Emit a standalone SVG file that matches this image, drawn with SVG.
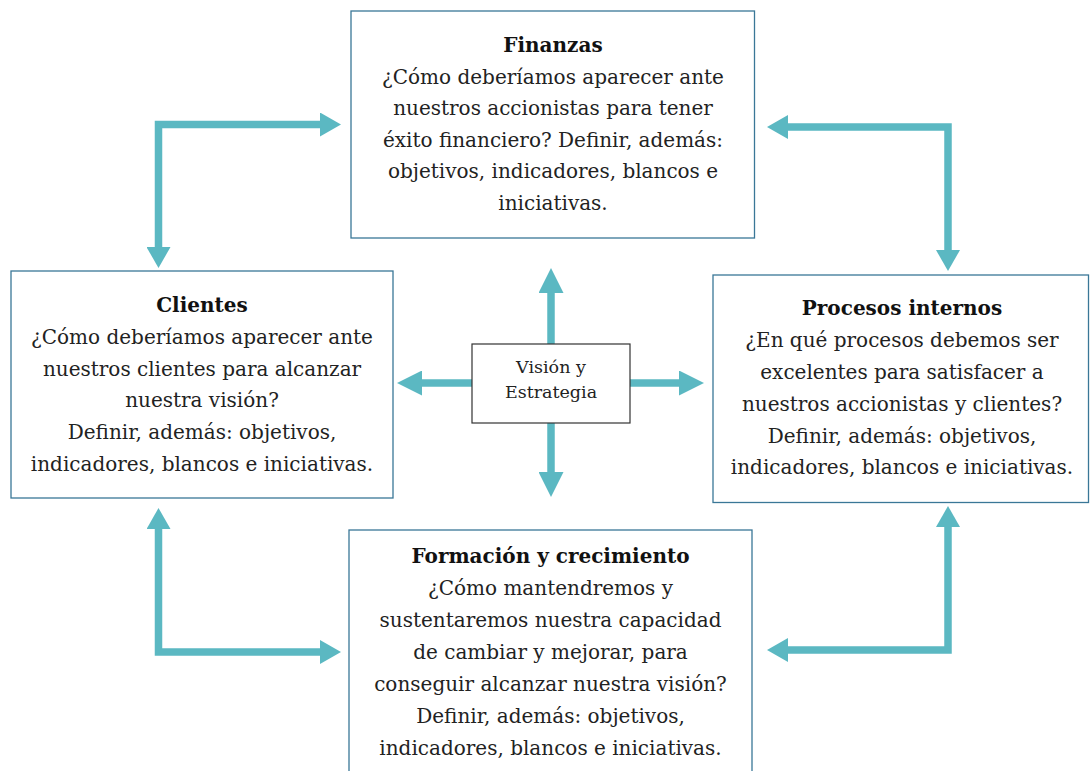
<svg xmlns="http://www.w3.org/2000/svg" width="1090" height="771" viewBox="0 0 1090 771">
<style>
.box{fill:#fff;stroke:#3A7797;stroke-width:1.3}
.cbox{fill:#fff;stroke:#333;stroke-width:1.2}
.t{font-family:"DejaVu Serif","Liberation Serif",serif;font-size:20px;fill:#222;text-anchor:middle}
.h{font-weight:bold;fill:#111}
.s{font-size:17.5px}
.arr{fill:none;stroke:#5BB8C2;stroke-width:7.5;stroke-linejoin:miter}
</style>
<defs>
<marker id="hd" markerUnits="userSpaceOnUse" viewBox="0 0 21 24" markerWidth="21" markerHeight="24" refX="0" refY="12" orient="auto-start-reverse">
<path d="M0,0 L21,12 L0,24 z" fill="#5BB8C2"/>
</marker>
<marker id="hc" markerUnits="userSpaceOnUse" viewBox="0 0 25 25" markerWidth="25" markerHeight="25" refX="0" refY="12.5" orient="auto">
<path d="M0,0 L25,12.5 L0,25 z" fill="#5BB8C2"/>
</marker>
</defs>
<g id="connectors">
<path class="arr" d="M158.5,247 V124.5 H320" marker-start="url(#hd)" marker-end="url(#hd)"/>
<path class="arr" d="M948,250 V127 H788" marker-start="url(#hd)" marker-end="url(#hd)"/>
<path class="arr" d="M158.5,529 V652 H320" marker-start="url(#hd)" marker-end="url(#hd)"/>
<path class="arr" d="M948,527 V650 H788" marker-start="url(#hd)" marker-end="url(#hd)"/>
<path class="arr" d="M551,344 V293" marker-end="url(#hc)"/>
<path class="arr" d="M551,423 V472" marker-end="url(#hc)"/>
<path class="arr" d="M472,383 H422" marker-end="url(#hc)"/>
<path class="arr" d="M630,383 H679" marker-end="url(#hc)"/>
</g>
<g id="finanzas">
<rect class="box" x="351" y="11" width="403.5" height="227"/>
<text class="t h" x="553" y="52">Finanzas</text>
<text class="t" x="553" y="83.5">¿Cómo deberíamos aparecer ante</text>
<text class="t" x="553" y="115">nuestros accionistas para tener</text>
<text class="t" x="553" y="146.5">éxito financiero? Definir, además:</text>
<text class="t" x="553" y="178">objetivos, indicadores, blancos e</text>
<text class="t" x="553" y="209.5">iniciativas.</text>
</g>
<g id="clientes">
<rect class="box" x="11" y="271" width="382" height="227"/>
<text class="t h" x="202" y="312">Clientes</text>
<text class="t" x="202" y="344">¿Cómo deberíamos aparecer ante</text>
<text class="t" x="202" y="375.5">nuestros clientes para alcanzar</text>
<text class="t" x="202" y="407">nuestra visión?</text>
<text class="t" x="202" y="439">Definir, además: objetivos,</text>
<text class="t" x="202" y="470.5">indicadores, blancos e iniciativas.</text>
</g>
<g id="procesos">
<rect class="box" x="713" y="275" width="375.5" height="227.5"/>
<text class="t h" x="902" y="315">Procesos internos</text>
<text class="t" x="902" y="347">¿En qué procesos debemos ser</text>
<text class="t" x="902" y="378.5">excelentes para satisfacer a</text>
<text class="t" x="902" y="411">nuestros accionistas y clientes?</text>
<text class="t" x="902" y="442.5">Definir, además: objetivos,</text>
<text class="t" x="902" y="474">indicadores, blancos e iniciativas.</text>
</g>
<g id="formacion">
<rect class="box" x="349" y="530" width="403" height="260"/>
<text class="t h" x="550.5" y="563">Formación y crecimiento</text>
<text class="t" x="550.5" y="595">¿Cómo mantendremos y</text>
<text class="t" x="550.5" y="627">sustentaremos nuestra capacidad</text>
<text class="t" x="550.5" y="659">de cambiar y mejorar, para</text>
<text class="t" x="550.5" y="691">conseguir alcanzar nuestra visión?</text>
<text class="t" x="550.5" y="723">Definir, además: objetivos,</text>
<text class="t" x="550.5" y="755">indicadores, blancos e iniciativas.</text>
</g>
<g id="vision">
<rect class="cbox" x="472" y="344" width="158" height="79"/>
<text class="t s" x="551" y="373">Visión y</text>
<text class="t s" x="551" y="398">Estrategia</text>
</g>
</svg>
